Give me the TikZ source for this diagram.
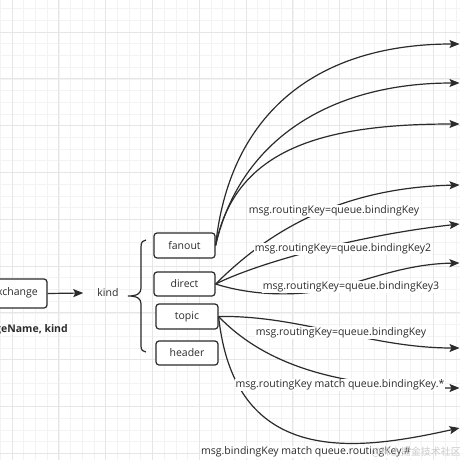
\documentclass[tikz,border=0pt]{standalone}
\usepackage{fontspec}
\setmainfont{Open Sans}
\newfontfamily\cjkfont{Noto Sans CJK SC}
\usetikzlibrary{arrows.meta}
\definecolor{ln}{HTML}{2B2B2B}
\definecolor{gmin}{HTML}{F3F3F3}
\definecolor{gmaj}{HTML}{E6E6E6}
\begin{document}
\begin{tikzpicture}[x=1pt,y=-1pt,
  txt/.style={font=\fontsize{10.5}{12}\selectfont, text=ln},
  box/.style={draw=ln, line width=1.2pt, rounded corners=3pt, fill=white, inner sep=0pt, txt},
  lbl/.style={fill=white, inner sep=1pt, txt},
  arr/.style={draw=ln, line width=1.2pt, -{Stealth[length=10pt,width=8pt,inset=2pt]}},
]
\useasboundingbox (0,0) rectangle (460,460);
\begin{scope}
\clip (0,0) rectangle (460,460);
\fill[white] (0,0) rectangle (460,460);
% grid
\foreach \i in {0,...,39} {
  \draw[gmin, line width=0.6pt] ({0.3+\i*11.7},0) -- ({0.3+\i*11.7},460);
  \draw[gmin, line width=0.6pt] (0,{8.6+\i*11.7}) -- (460,{8.6+\i*11.7});
}
\foreach \i in {0,...,9} {
  \draw[gmaj, line width=0.7pt] ({12+\i*46.8},0) -- ({12+\i*46.8},460);
  \draw[gmaj, line width=0.7pt] (0,{32+\i*46.8}) -- (460,{32+\i*46.8});
}

% left part
\node[box, minimum width=75pt, minimum height=29pt] (ex) at (9.5,293.5) {};
\node[txt, anchor=east, inner sep=0pt] (extxt) at (38,293) {Exchange};
\node[anchor=east, inner sep=0pt, text=ln, font=\bfseries\fontsize{10.5}{12}\selectfont] (exname) at (68,330) {exchangeName, kind};
\node[txt, inner sep=2pt] (kind) at (108,293) {kind};
\draw[arr] (ex.east) -- ([xshift=-12pt]kind.west);

% brace
\draw[ln, line width=1.2pt]
  (146,240) .. controls (143,240) and (141,242) .. (141,247) -- (141,288)
  .. controls (141,293) and (138,296) .. (128,296)
  .. controls (138,296) and (141,299) .. (141,304) -- (141,346)
  .. controls (141,350) and (143,352) .. (146,352);

% kind boxes
\node[box, minimum width=61pt, minimum height=25pt] (fanout) at (184.5,245.5) {fanout};
\node[box, minimum width=61pt, minimum height=24pt] (direct) at (184.5,284) {direct};
\node[box, minimum width=62pt, minimum height=25pt] (topic) at (187,316.5) {topic};
\node[box, minimum width=62pt, minimum height=24pt] (header) at (187,353) {header};

% targets
\coordinate (f1) at (459.5,44);
\coordinate (f2) at (459.5,83);
\coordinate (f3) at (459.5,124);
\coordinate (d1) at (459.5,185);
\coordinate (d2) at (459.5,224);
\coordinate (d3) at (459.5,263);
\coordinate (p1) at (459.5,348);
\coordinate (p2) at (459.5,388);
\coordinate (p3) at (459.5,428);

% fanout edges
\draw[arr] (fanout.east) .. controls (230,110) and (320,44) .. (f1);
\draw[arr] (fanout.east) .. controls (240,140) and (330,83) .. (f2);
\draw[arr] (fanout.east) .. controls (235,150) and (320,124) .. (f3);

% direct edges
\draw[arr] (direct.east) .. controls (260,240) and (330,188) .. (d1);
\draw[arr] (direct.east) .. controls (260,262) and (360,235) .. (d2);
\draw[arr] (direct.east) .. controls (250,295) and (290,296) .. (320,291)
  .. controls (360,284) and (400,264) .. (d3);

% topic edges
\draw[arr] (topic.east) .. controls (300,315) and (370,348) .. (p1);
\draw[arr] (topic.east) .. controls (270,370) and (350,388) .. (p2);
\draw[arr] (topic.east) .. controls (235,470) and (360,450) .. (p3);

% labels
\node[lbl] (l1) at (334,211) {msg.routingKey=queue.bindingKey};
\node[lbl] (l2) at (343,249) {msg.routingKey=queue.bindingKey2};
\node[lbl] (l3) at (351,287) {msg.routingKey=queue.bindingKey3};
\node[lbl] (l4) at (341,333) {msg.routingKey=queue.bindingKey};
\node[lbl] (l5) at (340,385) {msg.routingKey match queue.bindingKey.*};
\node[lbl] (l6) at (306,452) {msg.bindingKey match queue.routingKey.\#};

% watermark
\node[anchor=east, inner sep=0pt, text=gray!40, font=\cjkfont\fontsize{10}{12}\selectfont] (wm) at (461,452) {@稀土掘金技术社区};
\end{scope}
\end{tikzpicture}
\end{document}
